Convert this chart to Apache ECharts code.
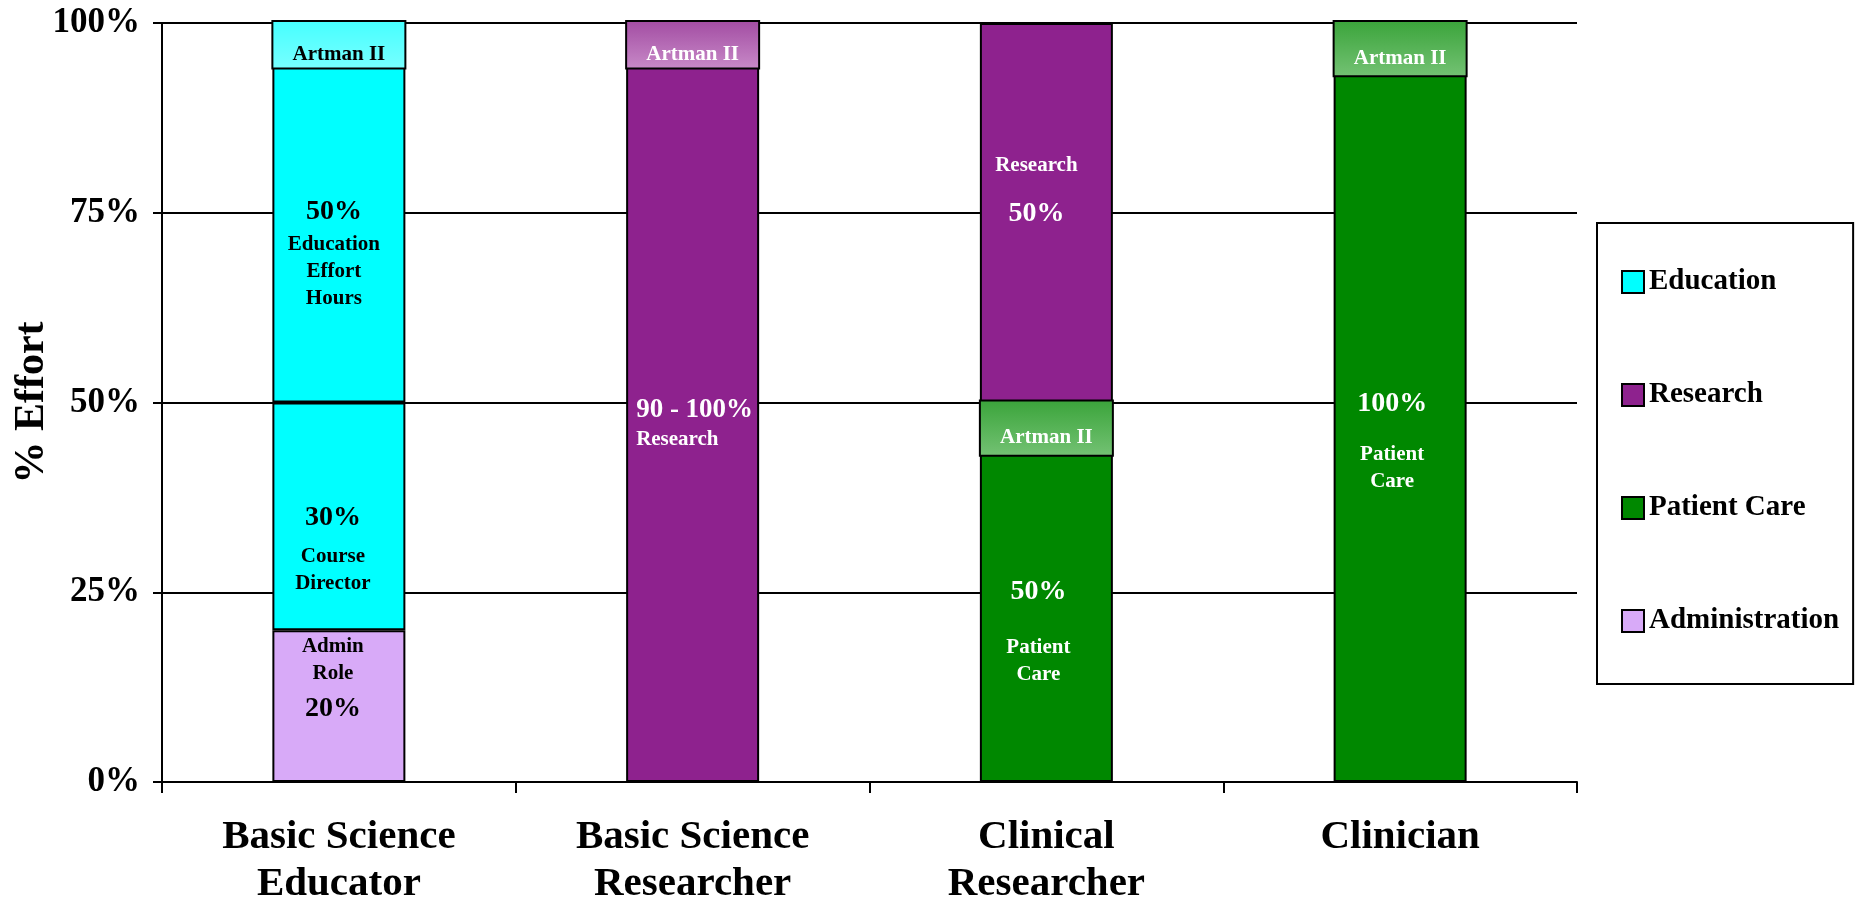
<!DOCTYPE html>
<html>
<head>
<meta charset="utf-8">
<title>% Effort by Faculty Track</title>
<script src="https://cdn.jsdelivr.net/npm/echarts@6/dist/echarts.min.js"></script>
<style>
  html, body { margin: 0; padding: 0; background: #fff; }
  #chart { width: 1862px; height: 901px; }
</style>
</head>
<body>
<div id="chart"></div>
<script>
// Faculty tracks along the x axis
const categories = ['Basic Science\nEducator', 'Basic Science\nResearcher', 'Clinical\nResearcher', 'Clinician'];

// Percent of effort per activity (stacked bottom to top)
const administration  = [20, null, null, null];
const educationCourse = [30, null, null, null];
const educationEffort = [50, null, null, null];
const patientCare     = [null, null, 50, 100];
const research        = [null, 100, 50, null];

// "Artman II" share drawn over the top of each track's main activity
const artmanCategory = [0, 1, 2, 3];
const artmanFrom     = [94, 94, 43, 93];
const artmanTo       = [100, 100, 50, 100];

// y axis ticks
const yMin = 0, yMax = 100, yStep = 25;

const FONT = "'Times New Roman', 'Liberation Serif', serif";
const BAR_W = 133;
const COLORS = {
  Education: '#00FFFF',
  Research: '#8E228E',
  'Patient Care': '#008800',
  Administration: '#D8AAF8'
};

function rich(color, pLine, tLine) {
  return {
    p: { fontFamily: FONT, fontWeight: 'bold', fontSize: 28, lineHeight: pLine, color: color },
    t: { fontFamily: FONT, fontWeight: 'bold', fontSize: 21, lineHeight: tLine, color: color }
  };
}

function item(value, text, color, pLine, offset) {
  if (value == null) return null;
  return {
    value: value,
    label: {
      show: true,
      position: 'inside',
      offset: offset,
      formatter: text,
      rich: rich(color, pLine, 27)
    }
  };
}

// per-segment annotations
const adminData = administration.map((v, i) => i === 0
  ? item(v, '{t|Admin}\n{t|Role}\n{p|' + v + '%}', '#000', 44, [-6, -24]) : null);
const courseData = educationCourse.map((v, i) => i === 0
  ? item(v, '{p|' + v + '%}\n{t|Course}\n{t|Director}', '#000', 52, [-6, 28]) : null);
const effortData = educationEffort.map((v, i) => i === 0
  ? item(v, '{p|' + v + '%}\n{t|Education}\n{t|Effort}\n{t|Hours}', '#000', 38, [-5, 40]) : null);
const patientData = patientCare.map((v, i) => {
  if (v == null) return null;
  const lh = i === 2 ? 84 : 76;
  const dy = i === 2 ? 27 : 28;
  return item(v, '{p|' + v + '%}\n{t|Patient}\n{t|Care}', '#fff', lh, [-8, dy]);
});
const researchData = research.map((v, i) => {
  if (v == null) return null;
  if (i === 1) {
    return {
      value: v,
      label: {
        show: true, position: 'insideLeft', distance: 10, offset: [0, 21],
        align: 'left',
        formatter: '{p|90 - ' + v + '%}\n{t|Research}',
        rich: {
          p: { fontFamily: FONT, fontWeight: 'bold', fontSize: 27, lineHeight: 32, color: '#fff', align: 'left' },
          t: { fontFamily: FONT, fontWeight: 'bold', fontSize: 21, lineHeight: 26, color: '#fff', align: 'left' }
        }
      }
    };
  }
  return {
    value: v,
    label: {
      show: true, position: 'inside', offset: [-10, -12],
      formatter: '{t|Research}\n{p|' + v + '%}',
      rich: {
        t: { fontFamily: FONT, fontWeight: 'bold', fontSize: 21, lineHeight: 26, color: '#fff' },
        p: { fontFamily: FONT, fontWeight: 'bold', fontSize: 28, lineHeight: 71, color: '#fff' }
      }
    }
  };
});

const barBase = {
  type: 'bar',
  stack: 'effort',
  barWidth: BAR_W,
  emphasis: { disabled: true }
};

// overlay gradient fills and text colour per track
const artmanStyle = [
  { top: '#45FFFF', bottom: '#78FFFF', text: '#000' },
  { top: '#A24CA2', bottom: '#C88AC8', text: '#fff' },
  { top: '#3AA43A', bottom: '#74C274', text: '#fff' },
  { top: '#3AA43A', bottom: '#74C274', text: '#fff' }
];

const artmanData = artmanCategory.map((c, i) => [c, artmanFrom[i], artmanTo[i]]);

const chart = echarts.init(document.getElementById('chart'), null, { renderer: 'canvas' });

chart.setOption({
  animation: false,
  backgroundColor: '#fff',
  textStyle: { fontFamily: FONT },
  grid: { left: 162, right: 285, top: 23, bottom: 119, containLabel: false, outerBoundsMode: 'none' },
  legend: {
    data: ['Education', 'Research', 'Patient Care', 'Administration'],
    orient: 'vertical',
    left: 1597,
    top: 223,
    padding: [44, 14, 48, 24],
    itemGap: 83,
    itemWidth: 22,
    itemHeight: 22,
    icon: 'rect',
    borderColor: '#000',
    borderWidth: 2,
    selectedMode: false,
    itemStyle: { borderColor: '#000', borderWidth: 2 },
    textStyle: { fontFamily: FONT, fontWeight: 'bold', fontSize: 29, lineHeight: 30, color: '#000' }
  },
  xAxis: {
    type: 'category',
    data: categories,
    axisLine: { lineStyle: { color: '#000', width: 2 } },
    axisTick: { show: true, length: 11, lineStyle: { color: '#000', width: 2 } },
    axisLabel: {
      color: '#000', fontFamily: FONT, fontWeight: 'bold', fontSize: 41, lineHeight: 47, margin: 32
    }
  },
  yAxis: {
    type: 'value',
    min: yMin, max: yMax, interval: yStep,
    name: '% Effort',
    nameLocation: 'middle',
    nameRotate: 90,
    nameGap: 109,
    nameMoveOverlap: false,
    nameTextStyle: { color: '#000', fontFamily: FONT, fontWeight: 'bold', fontSize: 42 },
    axisLine: { show: true, lineStyle: { color: '#000', width: 2 } },
    axisTick: { show: true, length: 9, lineStyle: { color: '#000', width: 2 } },
    axisLabel: {
      color: '#000', fontFamily: FONT, fontWeight: 'bold', fontSize: 35, margin: 22,
      formatter: '{value}%'
    },
    splitLine: { show: true, lineStyle: { color: '#000', width: 2 } }
  },
  series: [
    Object.assign({}, barBase, { name: 'Administration', data: adminData, itemStyle: { color: COLORS.Administration, borderColor: '#000', borderWidth: 2 } }),
    Object.assign({}, barBase, { name: 'Education', data: courseData, itemStyle: { color: COLORS.Education, borderColor: '#000', borderWidth: 2 } }),
    Object.assign({}, barBase, { name: 'Education', data: effortData, itemStyle: { color: COLORS.Education, borderColor: '#000', borderWidth: 2 } }),
    Object.assign({}, barBase, { name: 'Patient Care', data: patientData, itemStyle: { color: COLORS['Patient Care'], borderColor: '#000', borderWidth: 2 } }),
    Object.assign({}, barBase, { name: 'Research', data: researchData, itemStyle: { color: COLORS.Research, borderColor: '#000', borderWidth: 2 } }),
    {
      type: 'custom',
      name: 'Artman II',
      z: 5,
      data: artmanData,
      encode: { x: 0, y: [1, 2] },
      renderItem: function (params, api) {
        const c = api.value(0);
        const top = api.coord([c, api.value(2)]);
        const bottom = api.coord([c, api.value(1)]);
        const st = artmanStyle[params.dataIndex];
        return {
          type: 'group',
          children: [
            {
              type: 'rect',
              shape: { x: top[0] - BAR_W / 2, y: top[1] - 2, width: BAR_W, height: bottom[1] - top[1] + 2 },
              style: {
                fill: {
                  type: 'linear', x: 0, y: 0, x2: 0, y2: 1,
                  colorStops: [{ offset: 0, color: st.top }, { offset: 1, color: st.bottom }]
                },
                stroke: '#000',
                lineWidth: 2
              }
            },
            {
              type: 'text',
              style: {
                text: 'Artman II',
                x: top[0],
                y: (top[1] + bottom[1]) / 2 + 9,
                align: 'center',
                verticalAlign: 'middle',
                fill: st.text,
                font: 'bold 21px ' + FONT
              }
            }
          ]
        };
      }
    }
  ]
});
</script>
</body>
</html>
